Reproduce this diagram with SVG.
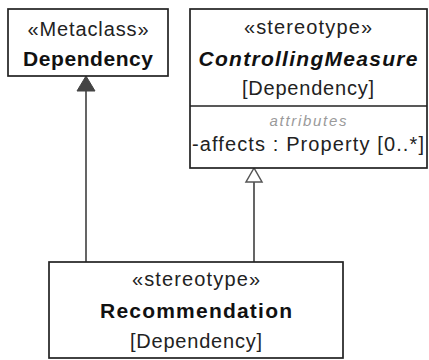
<svg xmlns="http://www.w3.org/2000/svg" width="429" height="360" viewBox="0 0 429 360">
<style>
.box{fill:#fff;stroke:#222;stroke-width:1.7}
.t{font-family:"Liberation Sans",Arial,sans-serif;font-size:20px;fill:#222;text-anchor:middle}
.b{font-weight:bold;font-size:21px;fill:#111}
.i{font-style:italic}
.attrh{font-family:"Liberation Sans",Arial,sans-serif;font-size:15px;font-style:italic;fill:#9a9a9a;text-anchor:middle}
.a{font-family:"Liberation Sans",Arial,sans-serif;font-size:20px;fill:#222}
.conn{stroke:#555;stroke-width:1.8;fill:none}
</style>
<rect width="429" height="360" fill="#fff"/>
<g id="connectors">
<line class="conn" x1="86" y1="90" x2="86" y2="262"/>
<polygon points="86,76 77,91 95,91" fill="#444" stroke="#444" stroke-width="1"/>
<line class="conn" x1="254" y1="182" x2="254" y2="262"/>
<polygon points="254,168 246,182 262,182" fill="#fff" stroke="#555" stroke-width="1.5"/>
</g>
<g id="Dependency">
<rect class="box" x="8" y="9" width="160" height="67"/>
<text class="t" x="88" y="36" textLength="121" lengthAdjust="spacing">«Metaclass»</text>
<text class="t b" x="88" y="66" textLength="130" lengthAdjust="spacing">Dependency</text>
</g>
<g id="ControllingMeasure">
<rect class="box" x="190" y="9" width="237" height="159"/>
<line x1="190" y1="106" x2="427" y2="106" stroke="#222" stroke-width="1.7"/>
<text class="t" x="308" y="34" textLength="128" lengthAdjust="spacing">«stereotype»</text>
<text class="t b i" x="308" y="66" textLength="219" lengthAdjust="spacing">ControllingMeasure</text>
<text class="t" x="308" y="95" textLength="132" lengthAdjust="spacing">[Dependency]</text>
<text class="attrh" x="308" y="126" textLength="77" lengthAdjust="spacing">attributes</text>
<text class="a" x="192" y="151" textLength="232" lengthAdjust="spacing">-affects : Property [0..*]</text>
</g>
<g id="Recommendation">
<rect class="box" x="49" y="262" width="294" height="96"/>
<text class="t" x="196" y="286" textLength="128" lengthAdjust="spacing">«stereotype»</text>
<text class="t b" x="196" y="318" textLength="192" lengthAdjust="spacing">Recommendation</text>
<text class="t" x="196" y="348" textLength="132" lengthAdjust="spacing">[Dependency]</text>
</g>
</svg>
